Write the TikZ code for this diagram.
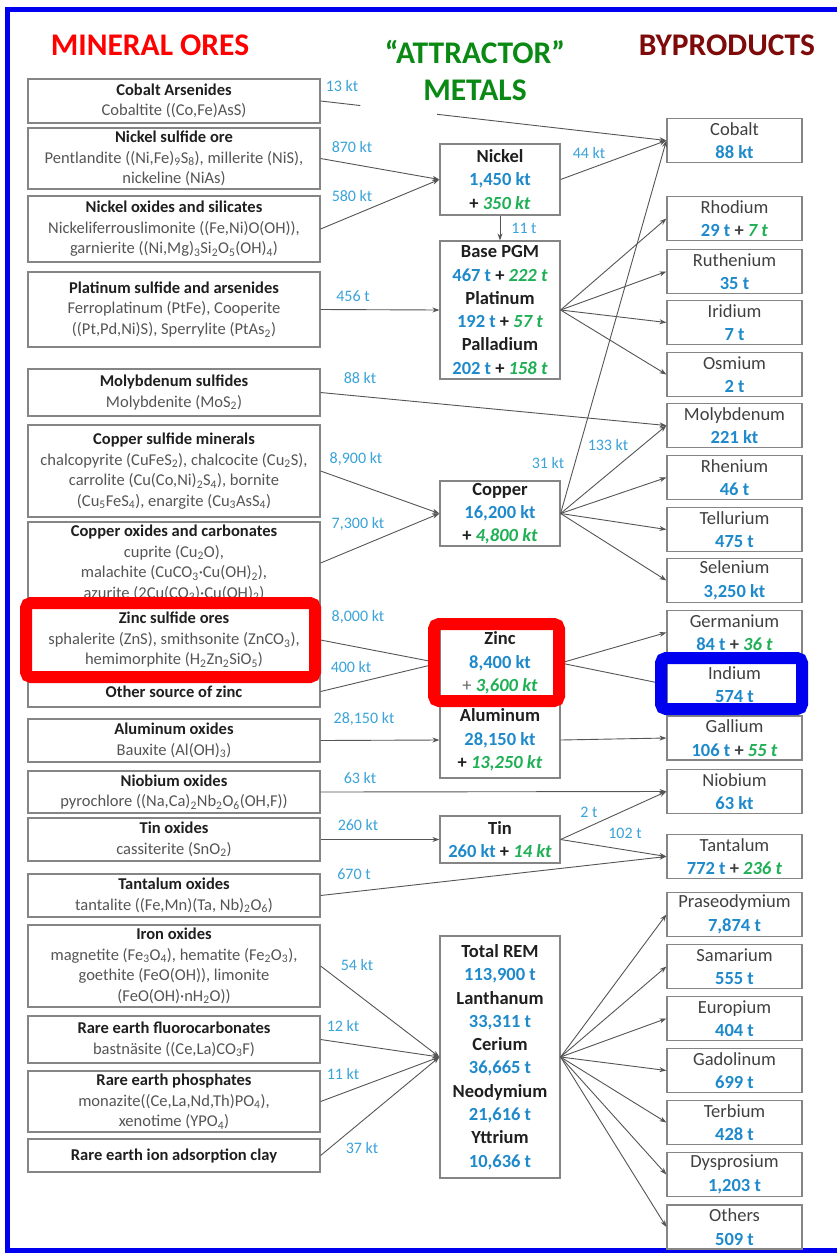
\documentclass[tikz,border=0pt]{standalone}
\usepackage{fontspec}
\setmainfont{Carlito}
\usetikzlibrary{arrows.meta,calc}

\definecolor{numblue}{HTML}{1F8ACB}
\definecolor{flowblue}{HTML}{3AA3D9}
\definecolor{numgreen}{HTML}{1FAF55}
\definecolor{oretxt}{HTML}{555555}
\definecolor{prodtxt}{HTML}{404040}
\definecolor{boxline}{HTML}{858585}
\definecolor{flowline}{HTML}{555555}
\definecolor{titlered}{HTML}{FF0000}
\definecolor{titlegreen}{HTML}{0A8A14}
\definecolor{titlebrown}{HTML}{7F0A0A}
\definecolor{frameblue}{HTML}{0000F0}
\definecolor{markred}{HTML}{FF0000}
\definecolor{markblue}{HTML}{0000F0}

\newcommand{\sbs}[1]{\textsubscript{#1}}
\newcommand{\bl}[1]{\textcolor{numblue}{\textbf{#1}}}
\newcommand{\gr}[1]{\textcolor{numgreen}{\textbf{\textit{#1}}}}
\newcommand{\ot}[1]{\textcolor{black!88}{\textbf{#1}}}

\begin{document}
\begin{tikzpicture}[x=1pt,y=-1pt,
  orebox/.style={draw=boxline, line width=1.2pt, minimum width=292pt, inner sep=0pt,
    align=center, text=oretxt, font=\fontsize{16.5}{20.5}\selectfont},
  metalbox/.style={draw=boxline, line width=1.2pt, minimum width=120pt, inner sep=0pt,
    align=center, text=black!88, font=\fontsize{18.5}{23.3}\selectfont},
  prodbox/.style={draw=boxline, line width=1.2pt, minimum width=135pt, minimum height=44pt,
    inner sep=0pt, align=center, text=prodtxt, font=\fontsize{18.5}{23.5}\selectfont},
  flowlab/.style={text=flowblue, inner sep=0pt, font=\fontsize{16}{17}\selectfont},
  flow/.style={draw=flowline, line width=0.9pt, -{Stealth[length=7pt,width=5pt]}},
  plainflow/.style={draw=flowline, line width=0.9pt},
  heading/.style={inner sep=0pt, font=\fontsize{31.5}{35}\selectfont\bfseries, align=center},
  hilite/.style={line width=12pt, rounded corners=5pt}
]
\useasboundingbox (0,0) rectangle (837,1254);
\fill[white] (0,0) rectangle (837,1254);

% outer frame (open on the right)
\draw[frameblue, line width=5pt] (850,9.5) -- (7.5,9.5) -- (7.5,1250) -- (850,1250);

% column headings
\node[heading, text=titlered] (hOre) at (150,45) {MINERAL ORES};
\node[heading, text=titlegreen] (hAtt) at (475,70) {“ATTRACTOR”\\[2pt]METALS};
\node[heading, text=titlebrown] (hByp) at (727,45) {BYPRODUCTS};

% mineral ores
\node[orebox, minimum height=44pt] (coa) at (174,101) {\ot{Cobalt Arsenides}\\Cobaltite ((Co,Fe)AsS)};
\node[orebox, minimum height=61pt] (nis) at (174,158.5) {\ot{Nickel sulfide ore}\\Pentlandite ((Ni,Fe)\sbs{9}S\sbs{8}), millerite (NiS),\\nickeline (NiAs)};
\node[orebox, minimum height=66pt] (nio) at (174,229) {\ot{Nickel oxides and silicates}\\Nickeliferrouslimonite ((Fe,Ni)O(OH)),\\garnierite ((Ni,Mg)\sbs{3}Si\sbs{2}O\sbs{5}(OH)\sbs{4})};
\node[orebox, minimum height=75pt] (pts) at (174,309.5) {\ot{Platinum sulfide and arsenides}\\Ferroplatinum (PtFe), Cooperite\\((Pt,Pd,Ni)S), Sperrylite (PtAs\sbs{2})};
\node[orebox, minimum height=47pt] (mos) at (174,392.5) {\ot{Molybdenum sulfides}\\Molybdenite (MoS\sbs{2})};
\node[orebox, minimum height=92pt] (cus) at (174,471) {\ot{Copper sulfide minerals}\\chalcopyrite (CuFeS\sbs{2}), chalcocite (Cu\sbs{2}S),\\carrolite (Cu(Co,Ni)\sbs{2}S\sbs{4}), bornite\\(Cu\sbs{5}FeS\sbs{4}), enargite (Cu\sbs{3}AsS\sbs{4})};
\node[orebox, minimum height=82pt] (cuo) at (174,563) {\ot{Copper oxides and carbonates}\\cuprite (Cu\sbs{2}O),\\malachite (CuCO\sbs{3}·Cu(OH)\sbs{2}),\\azurite (2Cu(CO\sbs{3})·Cu(OH)\sbs{2})};
\node[orebox, minimum height=72pt] (zns) at (174,640) {\ot{Zinc sulfide ores}\\sphalerite (ZnS), smithsonite (ZnCO\sbs{3}),\\hemimorphite (H\sbs{2}Zn\sbs{2}SiO\sbs{5})};
\node[orebox, minimum height=31pt] (znx) at (174,691.5) {\ot{Other source of zinc}};
\node[orebox, minimum height=43pt] (alo) at (174,740.5) {\ot{Aluminum oxides}\\Bauxite (Al(OH)\sbs{3})};
\node[orebox, minimum height=42pt] (nbo) at (174,792) {\ot{Niobium oxides}\\pyrochlore ((Na,Ca)\sbs{2}Nb\sbs{2}O\sbs{6}(OH,F))};
\node[orebox, minimum height=43pt] (sno) at (174,839.5) {\ot{Tin oxides}\\cassiterite (SnO\sbs{2})};
\node[orebox, minimum height=43pt] (tao) at (174,895.5) {\ot{Tantalum oxides}\\tantalite ((Fe,Mn)(Ta, Nb)\sbs{2}O\sbs{6})};
\node[orebox, minimum height=82pt] (feo) at (174,966) {\ot{Iron oxides}\\magnetite (Fe\sbs{3}O\sbs{4}), hematite (Fe\sbs{2}O\sbs{3}),\\goethite (FeO(OH)), limonite\\(FeO(OH)·nH\sbs{2}O))};
\node[orebox, minimum height=47pt] (ref) at (174,1039.5) {\ot{Rare earth fluorocarbonates}\\bastnäsite ((Ce,La)CO\sbs{3}F)};
\node[orebox, minimum height=61pt] (rep) at (174,1101.5) {\ot{Rare earth phosphates}\\monazite((Ce,La,Nd,Th)PO\sbs{4}),\\xenotime (YPO\sbs{4})};
\node[orebox, minimum height=33pt] (rec) at (174,1155.5) {\ot{Rare earth ion adsorption clay}};

% attractor metals
\node[metalbox, minimum height=71pt] (nik) at (500,179.5) {\textbf{Nickel}\\\bl{1,450 kt}\\\textbf{+} \gr{350 kt}};
\node[metalbox, minimum height=138pt] (pgm) at (500,310) {\textbf{Base PGM}\\\bl{467 t} \textbf{+} \gr{222 t}\\\textbf{Platinum}\\\bl{192 t} \textbf{+} \gr{57 t}\\\textbf{Palladium}\\\bl{202 t} \textbf{+} \gr{158 t}};
\node[metalbox, minimum height=65pt] (cu) at (500,513.5) {\textbf{Copper}\\\bl{16,200 kt}\\\textbf{+} \gr{4,800 kt}};
\node[metalbox, minimum height=74pt] (zn) at (500,663) {\textbf{Zinc}\\\bl{8,400 kt}\\\textcolor{black!60}{+} \gr{3,600 kt}};
\node[metalbox, minimum height=76pt] (al) at (500,740) {\textbf{Aluminum}\\\bl{28,150 kt}\\\textbf{+} \gr{13,250 kt}};
\node[metalbox, minimum height=47pt] (sn) at (500,839.5) {\textbf{Tin}\\\bl{260 kt} \textbf{+} \gr{14 kt}};
\node[metalbox, minimum height=242pt] (rem) at (500,1057) {\textbf{Total REM}\\\bl{113,900 t}\\\textbf{Lanthanum}\\\bl{33,311 t}\\\textbf{Cerium}\\\bl{36,665 t}\\\textbf{Neodymium}\\\bl{21,616 t}\\\textbf{Yttrium}\\\bl{10,636 t}};

% byproducts
\node[prodbox] (rCo) at (734.5,140.5) {Cobalt\\\bl{88 kt}};
\node[prodbox] (rRh) at (734.5,218.5) {Rhodium\\\bl{29 t} \textbf{+} \gr{7 t}};
\node[prodbox] (rRu) at (734.5,271.5) {Ruthenium\\\bl{35 t}};
\node[prodbox] (rIr) at (734.5,322.5) {Iridium\\\bl{7 t}};
\node[prodbox] (rOs) at (734.5,374.5) {Osmium\\\bl{2 t}};
\node[prodbox] (rMo) at (734.5,425.5) {Molybdenum\\\bl{221 kt}};
\node[prodbox] (rRe) at (734.5,477.5) {Rhenium\\\bl{46 t}};
\node[prodbox] (rTe) at (734.5,529.5) {Tellurium\\\bl{475 t}};
\node[prodbox] (rSe) at (734.5,580.5) {Selenium\\\bl{3,250 kt}};
\node[prodbox] (rGe) at (734.5,632.5) {Germanium\\\bl{84 t} \textbf{+} \gr{36 t}};
\node[prodbox] (rIn) at (734.5,684.5) {Indium\\\bl{574 t}};
\node[prodbox] (rGa) at (734.5,738) {Gallium\\\bl{106 t} \textbf{+} \gr{55 t}};
\node[prodbox] (rNb) at (734.5,791.5) {Niobium\\\bl{63 kt}};
\node[prodbox] (rTa) at (734.5,856.5) {Tantalum\\\bl{772 t} \textbf{+} \gr{236 t}};
\node[prodbox] (rPr) at (734.5,914.5) {Praseodymium\\\bl{7,874 t}};
\node[prodbox] (rSm) at (734.5,966.5) {Samarium\\\bl{555 t}};
\node[prodbox] (rEu) at (734.5,1018.5) {Europium\\\bl{404 t}};
\node[prodbox] (rGd) at (734.5,1070.5) {Gadolinum\\\bl{699 t}};
\node[prodbox] (rTb) at (734.5,1122.5) {Terbium\\\bl{428 t}};
\node[prodbox] (rDy) at (734.5,1174.5) {Dysprosium\\\bl{1,203 t}};
\node[prodbox] (rOt) at (734.5,1227) {Others\\\bl{509 t}};

% flows: ores to attractor metals and byproducts
\coordinate (gapA) at ($(coa.east)!0.115!(rCo.west)$);
\coordinate (gapB) at ($(coa.east)!0.337!(rCo.west)$);
\draw[plainflow] (coa.east) -- (gapA);
\draw[flow] (gapB) -- (rCo.west);
\draw[flow] (nis.east) -- (nik.west);
\draw[flow] (nio.east) -- (nik.west);
\draw[flow] (nik.east) -- (rCo.west);
\draw[flow] (nik.south) -- (pgm.north);
\draw[flow] (pts.east) -- (pgm.west);
\foreach \t in {rRh,rRu,rIr,rOs} \draw[flow] (pgm.east) -- (\t.west);
\draw[flow] (mos.east) -- (rMo.west);
\draw[flow] (cus.east) -- (cu.west);
\draw[flow] (cuo.east) -- (cu.west);
\foreach \t in {rCo,rMo,rRe,rTe,rSe} \draw[flow] (cu.east) -- (\t.west);
\draw[flow] (zns.east) -- (zn.west);
\draw[flow] (znx.east) -- (zn.west);
\draw[flow] (zn.east) -- (rGe.west);
\draw[flow] (zn.east) -- (rIn.west);
\draw[flow] (alo.east) -- (al.west);
\draw[flow] (al.east) -- (rGa.west);
\draw[flow] (nbo.east) -- (rNb.west);
\draw[flow] (sno.east) -- (sn.west);
\draw[flow] (sn.east) -- (rNb.west);
\draw[flow] (sn.east) -- (rTa.west);
\draw[flow] (tao.east) -- (rTa.west);
\foreach \s in {feo,ref,rep,rec} \draw[flow] (\s.east) -- (rem.west);
\foreach \t in {rPr,rSm,rEu,rGd,rTb,rDy,rOt} \draw[flow] (rem.east) -- (\t.west);

% flow quantities
\node[flowlab] (l13) at (342,86) {13 kt};
\node[flowlab] (l870) at (352,147) {870 kt};
\node[flowlab] (l580) at (352,196) {580 kt};
\node[flowlab] (l44) at (589,153) {44 kt};
\node[flowlab] (l11t) at (524,228) {11 t};
\node[flowlab] (l456) at (353,296) {456 t};
\node[flowlab] (l88) at (360,378) {88 kt};
\node[flowlab] (l8900) at (356,459) {8,900 kt};
\node[flowlab] (l7300) at (358,524) {7,300 kt};
\node[flowlab] (l31) at (548,463) {31 kt};
\node[flowlab] (l133) at (608,445) {133 kt};
\node[flowlab] (l8000) at (358,617) {8,000 kt};
\node[flowlab] (l400) at (351,667) {400 kt};
\node[flowlab] (l28150) at (364,719) {28,150 kt};
\node[flowlab] (l63) at (360,778) {63 kt};
\node[flowlab] (l260) at (358,825) {260 kt};
\node[flowlab] (l670) at (354,874) {670 t};
\node[flowlab] (l2t) at (589,812) {2 t};
\node[flowlab] (l102) at (625,833) {102 t};
\node[flowlab] (l54) at (357,965) {54 kt};
\node[flowlab] (l12) at (343,1026) {12 kt};
\node[flowlab] (l11) at (343,1074) {11 kt};
\node[flowlab] (l37) at (362,1148) {37 kt};

% highlight frames
\draw[hilite, markred] (26,603) rectangle (315,677);
\draw[hilite, markred] (434,624) rectangle (559,701);
\draw[hilite, markblue] (661,658) rectangle (802,709);
\end{tikzpicture}
\end{document}
